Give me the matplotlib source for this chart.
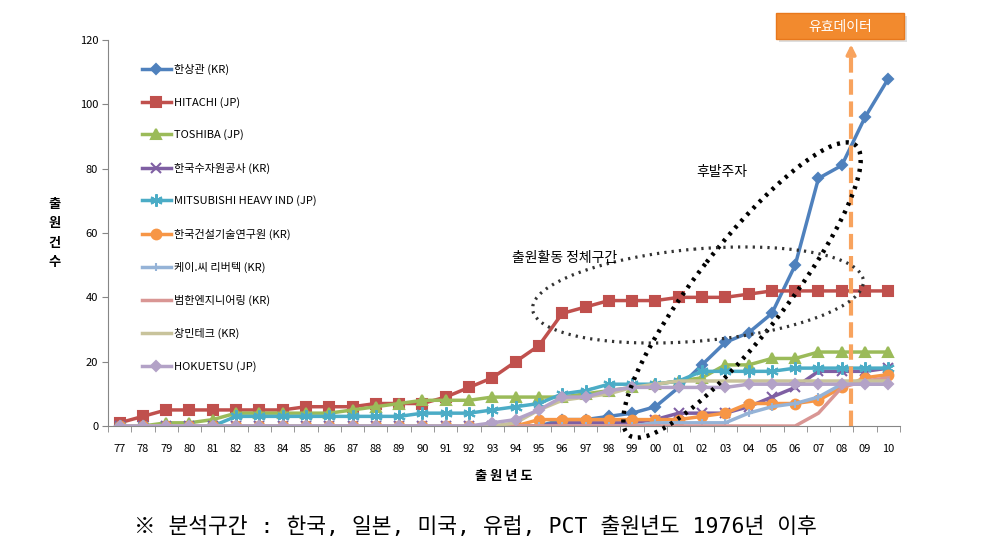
import numpy as np
import matplotlib
matplotlib.use('Agg')
import matplotlib.pyplot as plt
from matplotlib.patches import Ellipse, Rectangle

plt.rcParams['font.family'] = ['Noto Sans CJK KR', 'DejaVu Sans']

years = ['77', '78', '79', '80', '81', '82', '83', '84', '85', '86', '87', '88',
         '89', '90', '91', '92', '93', '94', '95', '96', '97', '98', '99', '00',
         '01', '02', '03', '04', '05', '06', '07', '08', '09', '10']

hansanggwan = [0, 0, 0, 0, 0, 0, 0, 0, 0, 0, 0, 0, 0, 0, 0, 0, 0, 0, 0, 2, 2, 3,
               4, 6, 12, 19, 26, 29, 35, 50, 77, 81, 96, 108]
hitachi = [1, 3, 5, 5, 5, 5, 5, 5, 6, 6, 6, 7, 7, 7, 9, 12, 15, 20, 25, 35, 37, 39,
           39, 39, 40, 40, 40, 41, 42, 42, 42, 42, 42, 42]
toshiba = [0, 0, 1, 1, 2, 4, 4, 4, 4, 4, 5, 6, 7, 8, 8, 8, 9, 9, 9, 9, 10, 11,
           12, 13, 14, 15, 19, 19, 21, 21, 23, 23, 23, 23]
kwater = [0, 0, 0, 0, 0, 0, 0, 0, 0, 0, 0, 0, 0, 0, 0, 0, 0, 0, 0, 1, 1, 1,
          1, 2, 4, 4, 4, 6, 9, 12, 17, 17, 17, 18]
mitsubishi = [0, 0, 0, 0, 0, 3, 3, 3, 3, 3, 3, 3, 3, 4, 4, 4, 5, 6, 7, 10, 11, 13,
              13, 13, 14, 17, 17, 17, 17, 18, 18, 18, 18, 18]
kict = [0, 0, 0, 0, 0, 0, 0, 0, 0, 0, 0, 0, 0, 0, 0, 0, 0, 0, 2, 2, 2, 2,
        2, 2, 2, 3, 4, 7, 7, 7, 8, 12, 15, 16]
kc_rivertech = [0, 0, 0, 0, 0, 0, 0, 0, 0, 0, 0, 0, 0, 0, 0, 0, 0, 0, 0, 0, 0, 0,
                0, 1, 1, 1, 1, 4, 6, 7, 9, 13, 13, 13]
bumhan = [0, 0, 0, 0, 0, 0, 0, 0, 0, 0, 0, 0, 0, 0, 0, 0, 0, 0, 0, 0, 0, 0,
          0, 0, 0, 0, 0, 0, 0, 0, 4, 12, 14, 15]
changmin = [0, 0, 0, 0, 0, 0, 0, 0, 0, 0, 0, 0, 0, 0, 0, 0, 0, 1, 5, 8, 9, 10,
            12, 13, 14, 14, 14, 14, 14, 14, 14, 14, 14, 14]
hokuetsu = [0, 0, 0, 0, 0, 0, 0, 0, 0, 0, 0, 0, 0, 0, 0, 0, 1, 2, 5, 9, 9, 11,
            12, 12, 12, 12, 12, 13, 13, 13, 13, 13, 13, 13]

series = [
    ('한상관 (KR)', hansanggwan, '#4F81BD', 'D', 5),
    ('HITACHI (JP)', hitachi, '#C0504D', 's', 7),
    ('TOSHIBA (JP)', toshiba, '#9BBB59', '^', 7),
    ('한국수자원공사 (KR)', kwater, '#7F5FA3', 'x', 7),
    ('MITSUBISHI HEAVY IND (JP)', mitsubishi, '#4BACC6', (6, 2, 0), 9),
    ('한국건설기술연구원 (KR)', kict, '#F79646', 'o', 7),
    ('케이.씨 리버텍 (KR)', kc_rivertech, '#95B3D7', '+', 6),
    ('범한엔지니어링 (KR)', bumhan, '#D99694', None, 0),
    ('창민테크 (KR)', changmin, '#C8C39B', None, 0),
    ('HOKUETSU (JP)', hokuetsu, '#B3A2C7', 'D', 5),
]

fig = plt.figure(figsize=(9.85, 5.45), dpi=100)
ax = fig.add_axes([0.1096, 0.2183, 0.8041, 0.7083])
x = np.arange(len(years))

for name, vals, col, mk, ms in series:
    ax.plot(x, vals, color=col, lw=2.5, marker=mk, ms=ms, mew=1.5,
            label=name)

ax.set_xlim(-0.5, len(years) - 0.5)
ax.set_ylim(0, 120)
ax.set_yticks(range(0, 121, 20))
ax.set_xticks(x)
ax.set_xticklabels(years)
ax.set_xticks(np.arange(-0.5, len(years), 1), minor=True)
ax.tick_params(axis='x', which='major', length=0, labelsize=8, pad=13)
ax.tick_params(axis='x', which='minor', length=4, color='#868686')
ax.tick_params(axis='y', length=4, color='#868686', labelsize=8, pad=3)
for s in ['top', 'right']:
    ax.spines[s].set_visible(False)
for s in ['left', 'bottom']:
    ax.spines[s].set_color('#868686')

ax.set_xlabel('출 원 년 도', fontsize=9.5, fontweight='bold', labelpad=11)
ax.set_ylabel('출\n원\n건\n수', fontsize=9.5, fontweight='bold', rotation=0,
              linespacing=1.5, va='center')
ax.yaxis.set_label_coords(-0.067, 0.5)

leg = ax.legend(loc='upper left', bbox_to_anchor=(0.03, 0.965), frameon=False,
                fontsize=8, labelspacing=1.98, handlelength=2.6,
                handletextpad=0.3)

# 유효데이터 line
ax.plot([31.4, 31.4], [0, 116], color='#F8A35E', lw=3, ls='--', clip_on=False)
ax.annotate('', xy=(31.4, 119.5), xytext=(31.4, 115),
            arrowprops=dict(arrowstyle='-|>', color='#F8A35E', lw=2.5,
                            mutation_scale=14), annotation_clip=False)

# overlay for box, ellipses and notes (pixel coords)
ov = fig.add_axes([0, 0, 1, 1], facecolor='none')
ov.set_xlim(0, 985)
ov.set_ylim(545, 0)
ov.axis('off')

ov.add_patch(Rectangle((779, 16), 128, 26, fc='#C8C8C8', ec='none', alpha=0.6))
ov.add_patch(Rectangle((776, 13), 128, 26, fc='#F28A2E', ec='#E8781C', lw=1))
ov.text(840, 26.5, '유효데이터', ha='center', va='center', color='white',
        fontsize=10)

ov.add_patch(Ellipse((742, 290), 368, 90, angle=-52, fill=False,
                     ec='black', lw=3.2, ls=(0, (0.7, 1.3))))
ov.add_patch(Ellipse((698, 295), 332, 92, angle=-5, fill=False,
                     ec='#333333', lw=2.3, ls=(0, (0.7, 1.6))))
ov.text(722, 172, '후발주자', ha='center', va='center', fontsize=10)
ov.text(565, 258, '출원활동 정체구간', ha='center', va='center', fontsize=10)

ov.text(475, 527, '※ 분석구간 : 한국, 일본, 미국, 유럽, PCT 출원년도 1976년 이후',
        ha='center', va='center', fontsize=15.5,
        family=['DejaVu Sans Mono', 'Noto Sans CJK KR'])

fig.savefig('out.png', dpi=100)
